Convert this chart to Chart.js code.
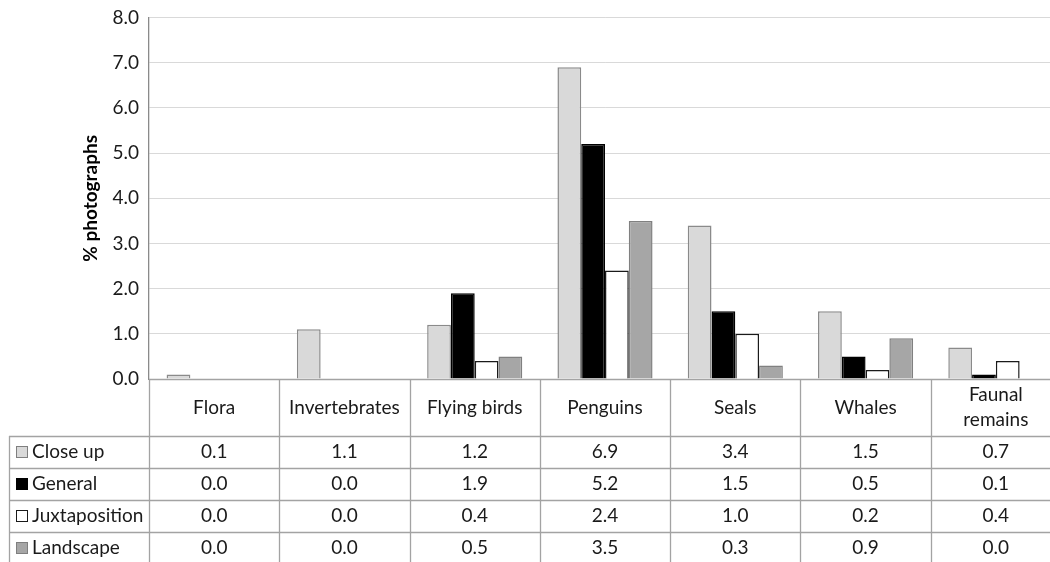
<!DOCTYPE html>
<html>
<head>
<meta charset="utf-8">
<script src="https://cdn.jsdelivr.net/npm/chart.js@4/dist/chart.umd.min.js"></script>
<style>
  html, body { margin: 0; padding: 0; background: #fff; overflow: hidden; }
  #wrap { width: 1062px; height: 566px; position: relative; }
</style>
</head>
<body>
<div id="wrap"><canvas id="c"></canvas></div>
<script>
const categories = ["Flora", "Invertebrates", "Flying birds", "Penguins", "Seals", "Whales", ["Faunal", "remains"]];
const seriesNames = ["Close up", "General", "Juxtaposition", "Landscape"];
const closeUp      = [0.1, 1.1, 1.2, 6.9, 3.4, 1.5, 0.7];
const general      = [0.0, 0.0, 1.9, 5.2, 1.5, 0.5, 0.1];
const juxtaposition= [0.0, 0.0, 0.4, 2.4, 1.0, 0.2, 0.4];
const landscape    = [0.0, 0.0, 0.5, 3.5, 0.3, 0.9, 0.0];
const yTicks = [0, 1, 2, 3, 4, 5, 6, 7, 8];

const fills   = ["#d9d9d9", "#000000", "#ffffff", "#a6a6a6"];
const borders = ["#8a8a8a", "#000000", "#1a1a1a", "#808080"];
const seriesData = [closeUp, general, juxtaposition, landscape];
const FONT = "Lato";
const LINE = "#a3a3a3";
const TXT = "#1a1a1a";

const tablePlugin = {
  id: "dataTable",
  afterDraw(chart) {
    const ctx = chart.ctx;
    const xs = chart.scales.x;
    const area = chart.chartArea;
    const n = categories.length;
    const step = (area.right - area.left) / n;
    const axisY = area.bottom;
    const headerBottom = axisY + 57;
    const rowH = 32;
    const tableLeft = 9;
    const bottom = headerBottom + rowH * seriesNames.length;
    ctx.save();
    ctx.strokeStyle = LINE;
    ctx.lineWidth = 1.3;
    ctx.beginPath();
    ctx.moveTo(area.left, axisY + 0.5);
    ctx.lineTo(area.right, axisY + 0.5);
    ctx.stroke();
    for (let r = 0; r <= seriesNames.length; r++) {
      const y = Math.round(headerBottom + r * rowH) + 0.5;
      ctx.beginPath();
      ctx.moveTo(tableLeft, y);
      ctx.lineTo(area.right, y);
      ctx.stroke();
    }
    for (let i = 0; i <= n; i++) {
      const x = Math.round(xs.getPixelForValue(i) - step / 2) + 0.5;
      ctx.beginPath();
      ctx.moveTo(x, axisY);
      ctx.lineTo(x, bottom);
      ctx.stroke();
    }
    ctx.beginPath();
    ctx.moveTo(tableLeft + 0.5, headerBottom);
    ctx.lineTo(tableLeft + 0.5, bottom);
    ctx.stroke();

    ctx.fillStyle = TXT;
    ctx.font = "19px " + FONT;
    ctx.textAlign = "center";
    ctx.textBaseline = "middle";
    const headerMid = (axisY + headerBottom) / 2;
    categories.forEach((c, i) => {
      const x = xs.getPixelForValue(i);
      if (Array.isArray(c)) {
        const lh = 25;
        c.forEach((t, k) => {
          ctx.fillText(t, x, headerMid + (k - (c.length - 1) / 2) * lh);
        });
      } else {
        ctx.fillText(c, x, headerMid);
      }
    });
    seriesNames.forEach((name, r) => {
      const yMid = headerBottom + r * rowH + rowH / 2;
      ctx.fillStyle = fills[r];
      ctx.fillRect(16.5, yMid - 5.5, 11, 11);
      ctx.strokeStyle = r === 1 ? "#000" : (r === 2 ? "#1a1a1a" : "#7f7f7f");
      ctx.lineWidth = 1;
      ctx.strokeRect(16.5, yMid - 5.5, 11, 11);
      ctx.fillStyle = TXT;
      ctx.textAlign = "left";
      ctx.fillText(name, 32, yMid);
      ctx.textAlign = "center";
      seriesData[r].forEach((v, i) => {
        ctx.fillText(v.toFixed(1), xs.getPixelForValue(i), yMid);
      });
    });
    ctx.restore();
  }
};

new Chart(document.getElementById("c"), {
  type: "bar",
  data: {
    labels: categories.map(c => Array.isArray(c) ? c.join(" ") : c),
    datasets: seriesNames.map((name, i) => ({
      label: name,
      data: seriesData[i],
      backgroundColor: fills[i],
      borderColor: borders[i],
      borderWidth: 1.5,
      borderSkipped: "bottom",
      categoryPercentage: 0.73,
      barPercentage: 1.0
    }))
  },
  options: {
    responsive: true,
    maintainAspectRatio: false,
    animation: false,
    devicePixelRatio: 1,
    layout: { padding: { top: 16, right: 1, bottom: 187, left: 0 } },
    plugins: { legend: { display: false }, tooltip: { enabled: false } },
    scales: {
      x: { display: false },
      y: {
        min: 0, max: 8,
        afterFit(scale) { scale.width = 149; },
        afterBuildTicks(scale) { scale.ticks = yTicks.map(v => ({ value: v })); },
        ticks: {
          padding: 10,
          color: TXT,
          font: { family: FONT, size: 19, lineHeight: 0.8 },
          callback: v => Number(v).toFixed(1)
        },
        grid: { color: "#d9d9d9", lineWidth: 1, drawTicks: false },
        border: { color: "#8a8a8a", width: 1.3 },
        title: {
          display: true,
          text: "% photographs",
          color: "#000",
          font: { family: FONT, size: 19, weight: "bold" },
          padding: { top: 79, bottom: 0 }
        }
      }
    }
  },
  plugins: [tablePlugin]
});
</script>
</body>
</html>
